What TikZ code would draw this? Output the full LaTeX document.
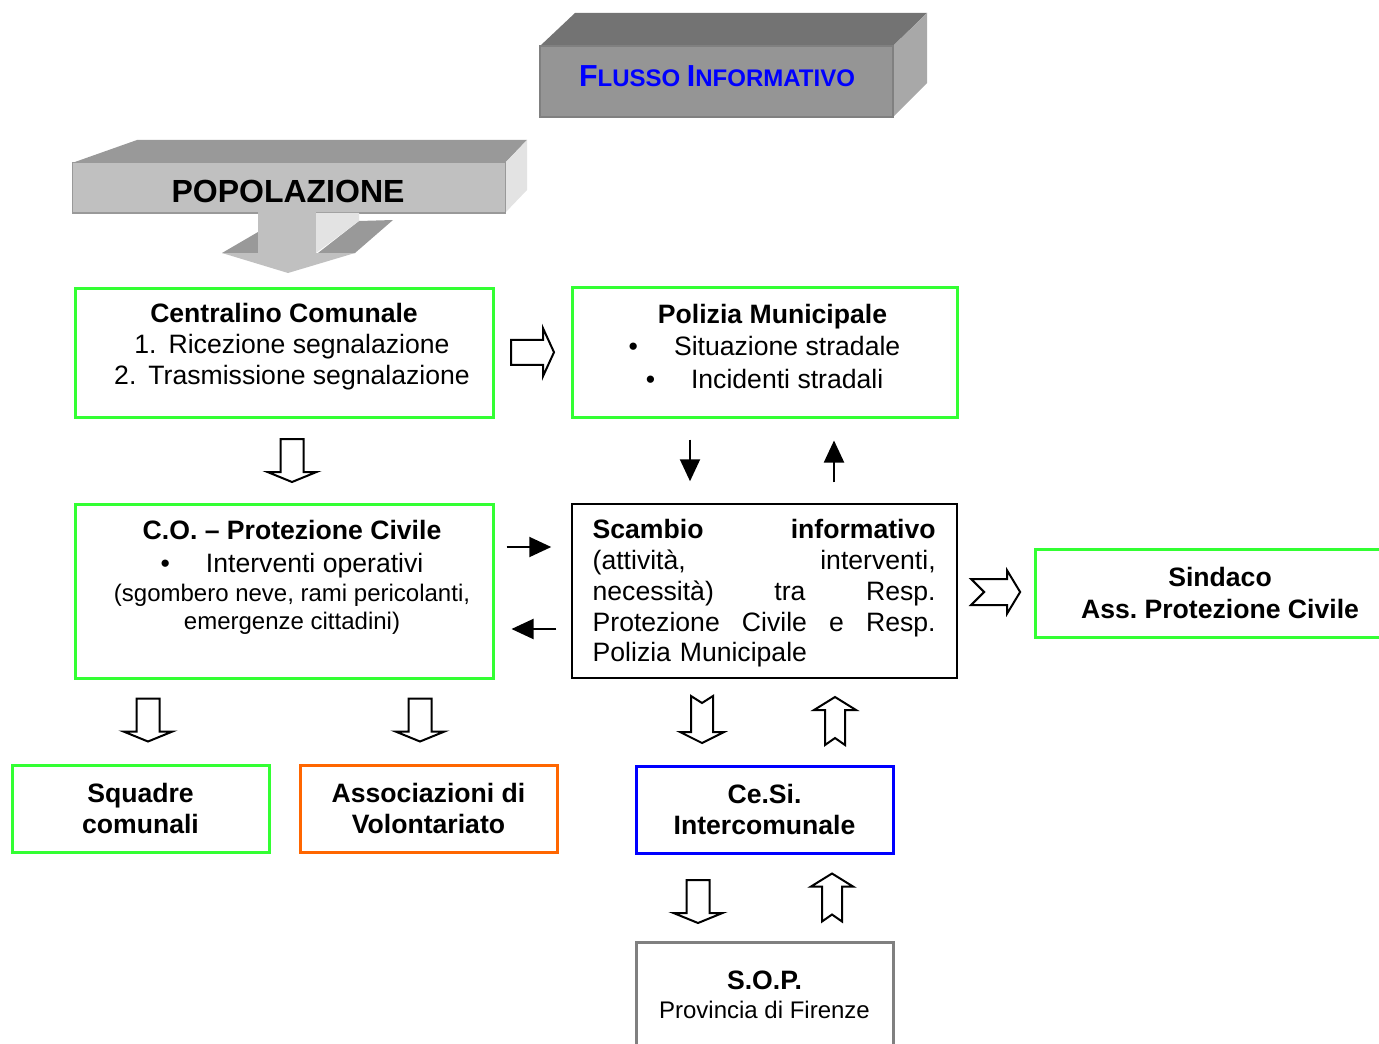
\documentclass[tikz,border=0pt]{standalone}
\usepackage{fontspec}
\setmainfont{Liberation Sans}
\usetikzlibrary{positioning,arrows.meta,calc}
\frenchspacing

\definecolor{boxgreen}{RGB}{51,255,51}
\definecolor{boxorange}{RGB}{255,102,0}
\definecolor{boxblue}{RGB}{0,0,255}
\definecolor{sopgray}{RGB}{128,128,128}
\definecolor{flussofront}{RGB}{149,149,149}
\definecolor{flussotop}{RGB}{115,115,115}
\definecolor{flussoside}{RGB}{168,168,168}
\definecolor{popfront}{RGB}{192,192,192}
\definecolor{poptop}{RGB}{153,153,153}
\definecolor{popside}{RGB}{227,227,227}

\tikzset{
  box/.style={rectangle, line width=1.5pt, inner sep=0pt, align=center,
    font=\bfseries\fontsize{13.3}{15.75}\selectfont},
  greenbox/.style={box, draw=boxgreen},
  txt/.style={inner sep=0pt, align=center, font=\fontsize{13.3}{15.5}\selectfont},
  flow/.style={line width=1pt, -{Triangle[length=11pt,width=10pt]}},
  hollow/.style={draw=black, fill=white, line width=1pt, line join=miter},
  % frecce vuote
  hdown/.pic={\path[hollow] (-11.5,-21.5) -- (11.5,-21.5) -- (11.5,11.5) -- (24.5,11.5)
    -- (0,21.5) -- (-24.5,11.5) -- (-11.5,11.5) -- cycle;},
  ndown/.pic={\path[hollow] (-11,-23.5) -- (0,-16.5) -- (11,-23.5) -- (11,12.5) -- (22,12.5)
    -- (0,23.5) -- (-22,12.5) -- (-11,12.5) -- cycle;},
  nup/.pic={\path[hollow] (0,-24) -- (21,-11) -- (10,-11) -- (10,24) -- (0,17)
    -- (-10,24) -- (-10,-11) -- (-21,-11) -- cycle;},
  hright/.pic={\path[hollow] (-21.5,-12.5) -- (10.5,-12.5) -- (10.5,-24) -- (21.5,0)
    -- (10.5,24) -- (10.5,12.5) -- (-21.5,12.5) -- cycle;},
  nright/.pic={\path[hollow] (-24.5,-13) -- (11.5,-13) -- (11.5,-21.5) -- (24.5,0)
    -- (11.5,21.5) -- (11.5,13) -- (-24.5,13) -- (-11.5,0) -- cycle;},
}

\begin{document}
\begin{tikzpicture}[x=0.5pt, y=-0.5pt]
  \useasboundingbox (0,0) rectangle (1379,1043);
  \clip (0,0) rectangle (1379,1043);

  % titolo 3D
  \fill[flussotop] (540,46) -- (575,13) -- (927,13) -- (893,46) -- cycle;
  \fill[flussoside] (893,46) -- (927,13) -- (927,83) -- (893,117) -- cycle;
  \filldraw[fill=flussofront, draw=sopgray, line width=0.75pt] (540,46) rectangle (893,117);
  \node[inner sep=0pt, text=boxblue, font=\bfseries] (titolo) at (717,76)
    {\fontsize{15.2}{15.2}\selectfont F\fontsize{12}{12}\selectfont LUSSO
     \fontsize{15.2}{15.2}\selectfont I\fontsize{12}{12}\selectfont NFORMATIVO};

  % popolazione
  \fill[poptop] (72,163) -- (137,140) -- (527,140) -- (505,163) -- cycle;
  \fill[popside] (505,163) -- (527,140) -- (527,190) -- (505,213) -- cycle;
  \filldraw[fill=popfront, draw=poptop, line width=0.5pt] (72,163) rectangle (505,213);
  \fill[poptop] (222,253) -- (258,232) -- (258,253) -- cycle;
  \fill[poptop] (318,253) -- (359,221) -- (393,220) -- (355,253) -- cycle;
  \fill[popside] (316,213) -- (359,213) -- (359,221) -- (316,253) -- cycle;
  \fill[popfront] (258,212) rectangle (316,253);
  \fill[popfront] (222,253) -- (355,253) -- (288,273) -- cycle;
  \node[inner sep=0pt, font=\bfseries\fontsize{16}{16}\selectfont] (pop) at (288,191.5) {POPOLAZIONE};

  % riquadri
  \node[greenbox, minimum width=209pt, minimum height=64.5pt] (cent) at (284,352.5) {};
  \node[txt, below=8pt of cent.north, xshift=4pt] (centtxt)
    {\textbf{Centralino Comunale}\hspace*{8pt}\\1.\hspace{6pt}Ricezione segnalazione\\2.\hspace{6pt}Trasmissione segnalazione};

  \node[greenbox, minimum width=192.5pt, minimum height=65pt] (pol) at (764.5,352) {};
  \node[txt, below=9pt of pol.north, font=\fontsize{13.3}{16.25}\selectfont] (poltxt)
    {\hspace*{8pt}\textbf{Polizia Municipale}\\\textbullet\hspace{18pt}Situazione stradale\\\textbullet\hspace{18pt}Incidenti stradali};

  \node[greenbox, minimum width=209pt, minimum height=87pt] (co) at (284,591) {};
  \node[txt, below=8.5pt of co.north, xshift=4pt, font=\fontsize{13.3}{14}\selectfont] (cotxt)
    {\textbf{C.O. – Protezione Civile}\\[2.5pt]\textbullet\hspace{18pt}Interventi operativi\\[0.5pt]
     {\fontsize{12}{14}\selectfont (sgombero neve, rami pericolanti,}\\
     {\fontsize{12}{14}\selectfont emergenze cittadini)}};

  \node[box, draw=black, line width=0.75pt, minimum width=192.5pt, minimum height=87pt] (sc) at (764.5,591) {};
  \node[txt, align=left, text width=171.5pt, below right=8pt and 10.5pt of sc.north west,
    font=\fontsize{13.3}{15.35}\selectfont] (sctxt)
    {\makebox[171.5pt][l]{\textbf{Scambio}\hfill\textbf{informativo}}\\
     \makebox[171.5pt][l]{(attività,\hfill interventi,}\\
     \makebox[171.5pt][l]{necessità)\hfill tra\hfill Resp.}\\
     \makebox[171.5pt][l]{Protezione\hfill Civile\hfill e\hfill Resp.}\\
     Polizia Municipale};

  \node[greenbox, minimum width=185pt, minimum height=44pt] (sin) at (1220,593) {Sindaco\\Ass. Protezione Civile};

  \node[greenbox, minimum width=128.5pt, minimum height=43.5pt] (squ) at (140.5,808.5) {Squadre\\comunali};
  \node[box, draw=boxorange, minimum width=128.5pt, minimum height=43.5pt] (ass) at (428.5,808.5) {Associazioni di\\Volontariato};
  \node[box, draw=boxblue, minimum width=128.5pt, minimum height=43.5pt] (cesi) at (764.5,809.5) {Ce.Si.\\Intercomunale};

  \node[box, draw=sopgray, minimum width=128.5pt, minimum height=59pt] (sop) at (764.5,1001) {};
  \node[txt, below=15pt of sop.north, font=\fontsize{12}{14.5}\selectfont] (soptxt)
    {{\bfseries\fontsize{13.3}{14.5}\selectfont S.O.P.}\\Provincia di Firenze};

  % frecce
  \pic at ($(cent.east)!0.5!(pol.west)$) {hright};
  \pic at ($(cent.south)!0.5!(co.north)+(8,0)$) {hdown};
  \pic at ($(squ.north)+(7.5,-43.5)$) {hdown};
  \pic at ($(ass.north)+(-8.5,-43.5)$) {hdown};
  \pic at (702,719.5) {ndown};
  \pic at (835,721) {nup};
  \pic at (698,901.5) {hdown};
  \pic at (832,897.5) {nup};
  \pic at ($(sc.east)!0.5!(sin.west)$) {nright};

  \draw[flow, shorten <=6pt, shorten >=10pt] ([yshift=22pt]co.east) -- ([yshift=22pt]sc.west);
  \draw[flow, shorten <=7.5pt, shorten >=8.5pt] ([yshift=-19pt]sc.west) -- ([yshift=-19pt]co.east);
  \draw[flow, shorten <=10.5pt, shorten >=11pt] ([xshift=-37.25pt]pol.south) -- ([xshift=-37.25pt]sc.north);
  \draw[flow, shorten <=10.5pt, shorten >=11pt] ([xshift=34.75pt]sc.north) -- ([xshift=34.75pt]pol.south);
\end{tikzpicture}
\end{document}
